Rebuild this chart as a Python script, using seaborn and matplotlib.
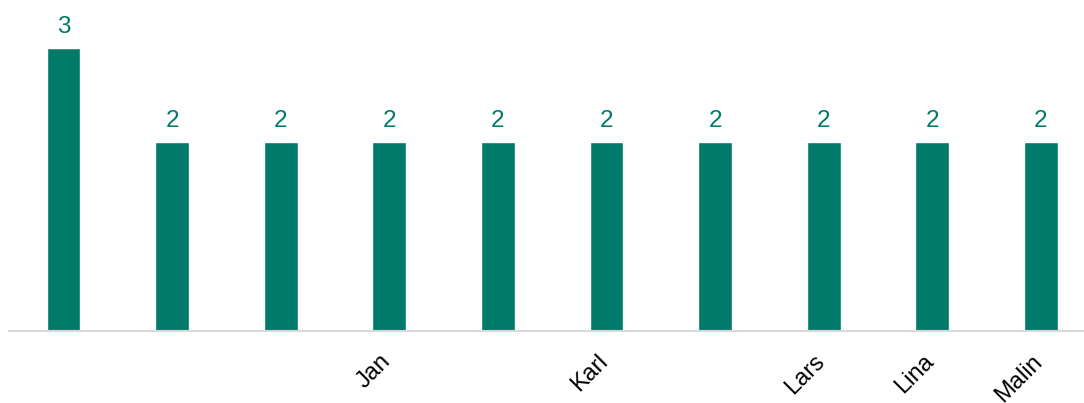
import matplotlib
matplotlib.use('Agg')
import matplotlib.pyplot as plt
import matplotlib.transforms as mtransforms
import seaborn as sns
import pandas as pd

names = ['', ' ', '  ', 'Jan', '   ', 'Karl', '    ', 'Lars', 'Lina', 'Malin']
counts = [3, 2, 2, 2, 2, 2, 2, 2, 2, 2]

df = pd.DataFrame({'name': names, 'count': counts})

sns.set_style('white')
plt.rcParams['font.family'] = ['Liberation Sans', 'DejaVu Sans']

fig = plt.figure(figsize=(10.84, 4.03), dpi=100)
ax = fig.add_axes([9.2 / 1084, 72 / 403, 1086 / 1084, 331 / 403])

sns.barplot(data=df, x='name', y='count', color='#007b6b', saturation=1, width=0.31, ax=ax)

for i, v in enumerate(counts):
    ax.text(i, v + 0.11, str(v), ha='center', va='bottom', fontsize=17.5, color='#007b6b')

ax.set_ylim(0, 3.51)
ax.set_xlim(-0.5, len(names) - 0.5)
ax.set_yticks([])
ax.set_xlabel('')
ax.set_ylabel('')
for s in ['top', 'right', 'left']:
    ax.spines[s].set_visible(False)
ax.spines['bottom'].set_color('#d9d9d9')
ax.spines['bottom'].set_linewidth(1.5)
ax.tick_params(axis='x', length=0, pad=14)

# shift tick labels a little to the left
shift = mtransforms.ScaledTranslation(-10 / 100, 0, fig.dpi_scale_trans)
for lab in ax.get_xticklabels():
    lab.set_rotation(45)
    lab.set_ha('right')
    lab.set_rotation_mode('anchor')
    lab.set_fontsize(17)
    lab.set_color('black')
    lab.set_transform(lab.get_transform() + shift)

fig.savefig('out.png', dpi=100)
